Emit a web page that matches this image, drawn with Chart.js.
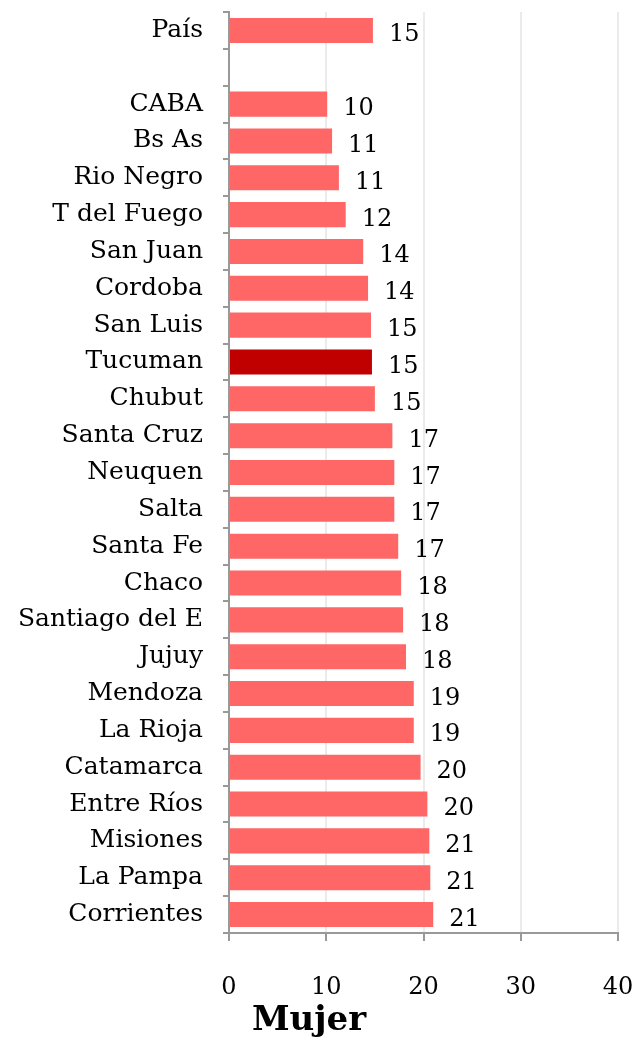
<!DOCTYPE html>
<html>
<head>
<meta charset="utf-8">
<script src="https://cdn.jsdelivr.net/npm/chart.js@4/dist/chart.umd.min.js"></script>
<style>
  body { margin: 0; background: #fff; }
  #wrap { width: 639px; height: 1038px; }
</style>
</head>
<body>
<div id="wrap"><canvas id="chart"></canvas></div>
<script>
// data
const provincias = ["País", "", "CABA", "Bs As", "Rio Negro", "T del Fuego", "San Juan", "Cordoba",
  "San Luis", "Tucuman", "Chubut", "Santa Cruz", "Neuquen", "Salta", "Santa Fe", "Chaco",
  "Santiago del E", "Jujuy", "Mendoza", "La Rioja", "Catamarca", "Entre Ríos", "Misiones",
  "La Pampa", "Corrientes"];
const mujer = [14.8, null, 10.1, 10.6, 11.3, 12.0, 13.8, 14.3,
  14.6, 14.7, 15.0, 16.8, 17.0, 17.0, 17.4, 17.7,
  17.9, 18.2, 19.0, 19.0, 19.7, 20.4, 20.6,
  20.7, 21.0];
const xTicks = [0, 10, 20, 30, 40];
const destacado = "Tucuman";

const FONT = "'DejaVu Serif', Georgia, serif";

const barColors = provincias.map(p => p === destacado ? "#C00000" : "#FF6666");

// value labels at the end of each bar
const valueLabels = {
  id: "valueLabels",
  afterDatasetsDraw(chart) {
    const ctx = chart.ctx;
    const meta = chart.getDatasetMeta(0);
    ctx.save();
    ctx.font = "24px " + FONT;
    ctx.fillStyle = "#000";
    ctx.textAlign = "left";
    ctx.textBaseline = "alphabetic";
    meta.data.forEach((bar, i) => {
      const v = mujer[i];
      if (v === null) return;
      ctx.fillText(String(Math.round(v)), bar.x + 16, bar.y + 11);
    });
    ctx.restore();
  }
};

// keep the plot box where the original has it
function noPad(s) {
  s.paddingTop = 0;
  s.paddingBottom = 0;
  s.paddingLeft = 0;
  s.paddingRight = 0;
}

new Chart(document.getElementById("chart"), {
  type: "bar",
  data: {
    labels: provincias,
    datasets: [{
      data: mujer,
      backgroundColor: barColors,
      categoryPercentage: 1,
      barPercentage: 0.68
    }]
  },
  options: {
    indexAxis: "y",
    responsive: true,
    maintainAspectRatio: false,
    animation: false,
    layout: { padding: { top: 12, right: 21, left: 0, bottom: 0 } },
    plugins: {
      legend: { display: false },
      tooltip: { enabled: false },
      title: {
        display: true,
        text: "Mujer",
        position: "bottom",
        color: "#000",
        font: { family: FONT, size: 34, weight: "bold", lineHeight: 1.0 },
        padding: { top: 4, bottom: 0 }
      }
    },
    scales: {
      x: {
        min: 0,
        max: 40,
        afterBuildTicks: s => { s.ticks = xTicks.map(v => ({ value: v })); },
        afterFit: s => { s.height = 67; noPad(s); },
        grid: { color: "#ebebeb", lineWidth: 2, tickColor: "#999", tickLength: 8 },
        border: { color: "#999", width: 2 },
        ticks: { color: "#000", font: { family: FONT, size: 24 }, padding: 32 }
      },
      y: {
        afterFit: s => { s.width = 229; noPad(s); },
        grid: { drawOnChartArea: false, tickColor: "#999", tickLength: 6, lineWidth: 2 },
        border: { color: "#999", width: 2 },
        ticks: { color: "#000", font: { family: FONT, size: 25 }, padding: 20, autoSkip: false }
      }
    }
  },
  plugins: [valueLabels]
});
</script>
</body>
</html>
